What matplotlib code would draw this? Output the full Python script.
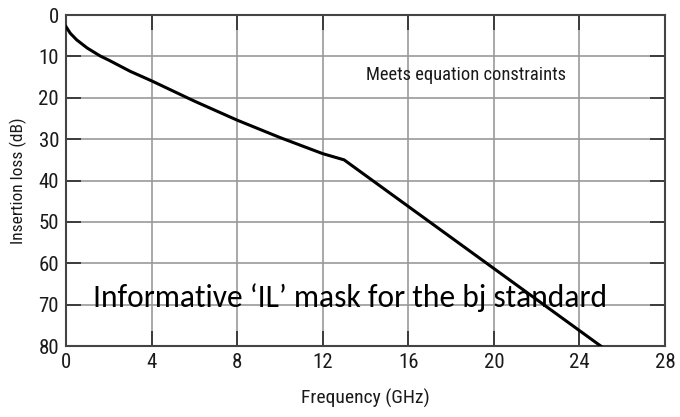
import matplotlib
matplotlib.use("Agg")
import matplotlib.pyplot as plt
from matplotlib import font_manager

# insertion-loss mask
freq_ghz = [0, 0.2, 0.5, 1, 1.6, 2, 3, 4, 6, 8, 10, 12, 13, 25]
loss_db = [2.8, 4.4, 6.0, 8.0, 9.9, 10.9, 13.6, 15.9, 20.8, 25.4, 29.6, 33.5, 35.0, 80.0]
x_ticks = [0, 4, 8, 12, 16, 20, 24, 28]
y_ticks = [0, 10, 20, 30, 40, 50, 60, 70, 80]


def first_font(candidates, default):
    names = {f.name for f in font_manager.fontManager.ttflist}
    for name in candidates:
        if name in names:
            return name
    return default


narrow = first_font(["Roboto Condensed", "Liberation Sans Narrow"], "DejaVu Sans")
calibri = first_font(["Carlito", "Calibri"], "Open Sans")

fig = plt.figure(figsize=(6.8, 4.17), dpi=100)
ax = fig.add_axes([0.097, 0.170, 0.881, 0.794])

ax.plot(freq_ghz, loss_db, color="black", lw=2.2, zorder=3)

ax.set_xlim(0, 28)
ax.set_ylim(80, 0)
ax.set_xticks(x_ticks)
ax.set_yticks(y_ticks)
ax.grid(True, color="#999999", lw=1.2)
ax.tick_params(direction="in", length=11, width=1.3, color="#333333",
               top=True, right=True, labelsize=15, pad=5)
for label in ax.get_xticklabels() + ax.get_yticklabels():
    label.set_fontfamily(narrow)
    label.set_color("#1a1a1a")
for spine in ax.spines.values():
    spine.set_color("#444444")
    spine.set_linewidth(1.5)

ax.set_xlabel("Frequency (GHz)", fontfamily=narrow, fontsize=14, labelpad=12,
              color="#1a1a1a")
ax.set_ylabel("Insertion loss (dB)", fontfamily=narrow, fontsize=12.5, labelpad=8,
              color="#1a1a1a")

ax.text(18.7, 14.5, "Meets equation constraints", fontfamily=narrow,
        fontsize=13.3, ha="center", va="center", color="#1a1a1a")

fig.text(0.515, 0.287, "Informative \u2018IL\u2019 mask for the bj standard",
         fontfamily=calibri, fontsize=22.7, ha="center", va="center")

fig.savefig("out.png", dpi=100)
